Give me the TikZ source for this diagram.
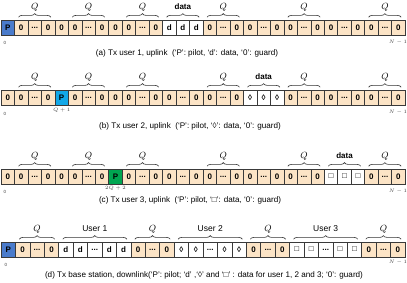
\documentclass[tikz,border=0pt]{standalone}
\usepackage{fontspec}
\setmainfont{Liberation Sans}
\usetikzlibrary{decorations.pathreplacing}
\definecolor{peach}{HTML}{FCE4C6}
\definecolor{pblue}{HTML}{4A7BCB}
\definecolor{pcyan}{HTML}{12A8E8}
\definecolor{pgreen}{HTML}{00A651}
\definecolor{edge}{HTML}{3A3A3A}
\newcommand\cdd{...}
\newcommand\mkrow[4]{%
  \foreach \s/\t [count=\i] in {#4} {%
    \node[cellbox,\s,minimum width=#3pt] (#1\i) at ({1+(\i-1)*#3},#2) {\t};
  }%
}
\tikzset{
  cellbox/.style={draw=edge, line width=0.6pt, minimum height=15pt, inner sep=0pt, outer sep=0pt,
    anchor=north west, font=\bfseries\fontsize{8}{9}\selectfont},
  gc/.style={fill=peach},
  wc/.style={fill=white},
  pb/.style={fill=pblue},
  pc/.style={fill=pcyan},
  pg/.style={fill=pgreen},
  br/.style={draw=black!80, line width=0.6pt, decorate, decoration={brace, amplitude=3.6pt, aspect=0.5}},
  qlbl/.style={anchor=base, yshift=8pt, font=\fontsize{9}{10}\selectfont},
  dlbl/.style={anchor=base, yshift=7.5pt, font=\bfseries\fontsize{8}{9}\selectfont},
  ulbl/.style={anchor=base, yshift=7.5pt, font=\fontsize{8.5}{10}\selectfont},
  idxlbl/.style={font=\fontsize{4.5}{5}\selectfont, text=black!75, inner sep=0pt},
  captxt/.style={font=\fontsize{8.1}{9.5}\selectfont, inner sep=0pt},
}
\newcommand\brc[5]{% row, from, to, style, text
  \draw[br] ([xshift=4pt,yshift=2.8pt]#1#2.north west) -- ([xshift=-4pt,yshift=2.8pt]#1#3.north east)
    node[midway,#4] {#5};
}
\begin{document}
\begin{tikzpicture}[x=1pt,y=-1pt]
\useasboundingbox (0,0) rectangle (407,282);
% row a
\mkrow{a}{20}{13.47}{pb/P,gc/0,gc/\cdd,gc/0,gc/0,gc/0,gc/\cdd,gc/0,gc/0,gc/0,gc/\cdd,gc/0,wc/d,wc/d,wc/d,gc/0,gc/\cdd,gc/0,gc/0,gc/\cdd,gc/0,gc/0,gc/\cdd,gc/0,gc/0,gc/\cdd,gc/0,gc/0,gc/\cdd,gc/0}
\brc{a}{2}{4}{qlbl}{$Q$}
\brc{a}{6}{8}{qlbl}{$Q$}
\brc{a}{10}{12}{qlbl}{$Q$}
\brc{a}{13}{15}{dlbl}{data}
\brc{a}{16}{18}{qlbl}{$Q$}
\brc{a}{22}{24}{qlbl}{$Q$}
\brc{a}{28}{30}{qlbl}{$Q$}
\node[idxlbl] (a0) at (5,43) {0};
\node[idxlbl] (aN) at (398,42) {$N-1$};
\node[captxt] (capa) at (187,53) {(a) Tx user 1, uplink~~(‘P’: pilot, ‘d’: data, ‘0’: guard)};
% row b
\mkrow{b}{90}{13.47}{gc/0,gc/0,gc/\cdd,gc/0,pc/P,gc/0,gc/\cdd,gc/0,gc/0,gc/0,gc/\cdd,gc/0,gc/0,gc/\cdd,gc/0,gc/0,gc/\cdd,gc/0,wc/◊,wc/◊,wc/◊,gc/0,gc/\cdd,gc/0,gc/0,gc/\cdd,gc/0,gc/0,gc/\cdd,gc/0}
\brc{b}{2}{4}{qlbl}{$Q$}
\brc{b}{6}{8}{qlbl}{$Q$}
\brc{b}{10}{12}{qlbl}{$Q$}
\brc{b}{16}{18}{qlbl}{$Q$}
\brc{b}{19}{21}{dlbl}{data}
\brc{b}{22}{24}{qlbl}{$Q$}
\brc{b}{28}{30}{qlbl}{$Q$}
\node[idxlbl] (b0) at (5,114) {0};
\node[idxlbl] (bq) at (b5.south) [yshift=-5.5pt] {$Q+1$};
\node[idxlbl] (bN) at (398,112) {$N-1$};
\node[captxt] (capb) at (190,126) {(b) Tx user 2, uplink~~(‘P’: pilot, ‘◊’: data, ‘0’: guard)};
% row c
\mkrow{c}{169}{13.47}{gc/0,gc/0,gc/\cdd,gc/0,gc/0,gc/0,gc/\cdd,gc/0,pg/P,gc/0,gc/\cdd,gc/0,gc/0,gc/\cdd,gc/0,gc/0,gc/\cdd,gc/0,gc/0,gc/\cdd,gc/0,gc/0,gc/\cdd,gc/0,wc/□,wc/□,wc/□,gc/0,gc/\cdd,gc/0}
\brc{c}{2}{4}{qlbl}{$Q$}
\brc{c}{6}{8}{qlbl}{$Q$}
\brc{c}{10}{12}{qlbl}{$Q$}
\brc{c}{16}{18}{qlbl}{$Q$}
\brc{c}{22}{24}{qlbl}{$Q$}
\brc{c}{25}{27}{dlbl}{data}
\brc{c}{28}{30}{qlbl}{$Q$}
\node[idxlbl] (c0) at (5,192) {0};
\node[idxlbl] (cq) at (c9.south) [yshift=-4.5pt] {$2Q+2$};
\node[idxlbl] (cN) at (398,191) {$N-1$};
\node[captxt] (capc) at (190,200) {(c) Tx user 3, uplink~~(‘P’: pilot, ‘□’: data, ‘0’: guard)};
% row d
\mkrow{d}{242}{14.43}{pb/P,gc/0,gc/\cdd,gc/0,wc/d,wc/d,wc/\cdd,wc/d,wc/d,gc/0,gc/\cdd,gc/0,wc/◊,wc/◊,wc/\cdd,wc/◊,wc/◊,gc/0,gc/\cdd,gc/0,wc/□,wc/□,wc/\cdd,wc/□,wc/□,gc/0,gc/\cdd,gc/0}
\brc{d}{2}{4}{qlbl}{$Q$}
\brc{d}{5}{9}{ulbl}{User 1}
\brc{d}{10}{12}{qlbl}{$Q$}
\brc{d}{13}{17}{ulbl}{User 2}
\brc{d}{18}{20}{qlbl}{$Q$}
\brc{d}{21}{25}{ulbl}{User 3}
\brc{d}{26}{28}{qlbl}{$Q$}
\node[idxlbl] (d0) at (6,265) {0};
\node[idxlbl] (dN) at (398,262) {$N-1$};
\node[captxt] (capd) at (204,275) {(d) Tx base station, downlink(‘P’: pilot; ‘d’ ,‘◊’ and ‘□’ : data for user 1, 2 and 3; ‘0’: guard)};
\end{tikzpicture}
\end{document}
